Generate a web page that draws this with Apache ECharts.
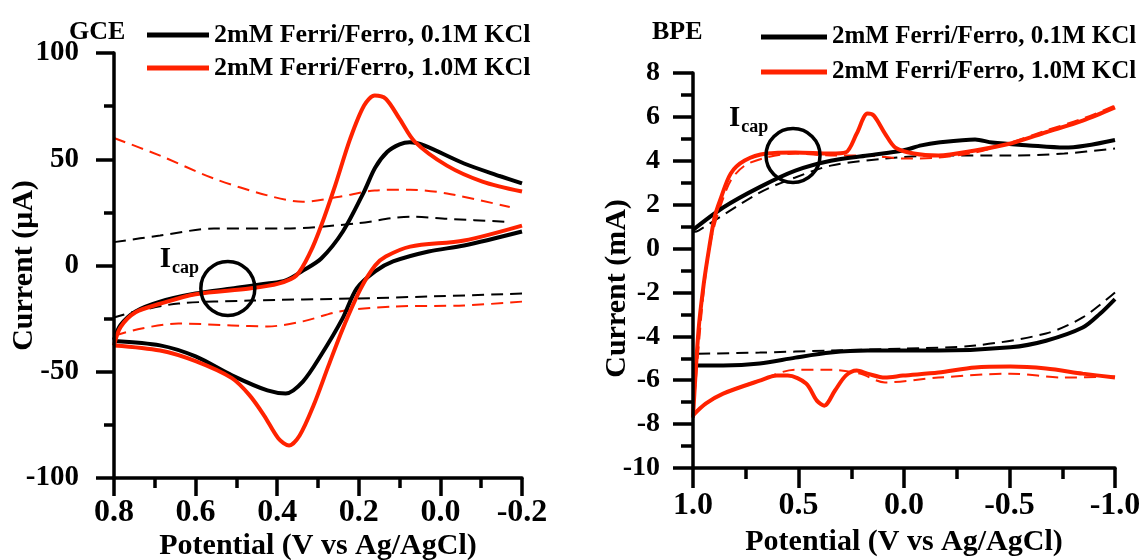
<!DOCTYPE html>
<html>
<head>
<meta charset="utf-8">
<script src="https://cdn.jsdelivr.net/npm/echarts@6/dist/echarts.min.js"></script>
<style>
html,body{margin:0;padding:0;background:#fff;}
#chart{width:1143px;height:560px;}
</style>
</head>
<body>
<div id="chart"></div>
<script>
// ---------- DATA (potential V, current) ----------
const N1 = '2mM Ferri/Ferro, 0.1M KCl';
const N2 = '2mM Ferri/Ferro, 1.0M KCl';

// GCE panel, current in µA
const gce01Up = [[0.8,-35],[0.784,-28],[0.747,-21.6],[0.687,-17],[0.6,-13.2],[0.511,-10.8],[0.424,-8.5],[0.379,-7],[0.337,-2.4],[0.292,3.3],[0.239,16],[0.187,34.8],[0.16,46],[0.13,53.5],[0.1,57],[0.075,58],[0.04,56.5],[-0.058,48],[-0.147,42],[-0.2,38.6]];
const gce01Dn = [[-0.2,16],[-0.058,9.4],[0.029,6.6],[0.116,1.9],[0.16,-2.8],[0.205,-10.8],[0.24,-25],[0.292,-42],[0.337,-54.6],[0.379,-60.2],[0.424,-58.8],[0.511,-51.7],[0.6,-42.8],[0.687,-37.6],[0.8,-35.5]];
const gce10Up = [[0.8,-37.6],[0.784,-29],[0.747,-22],[0.687,-18],[0.6,-13.5],[0.468,-10.8],[0.397,-8.5],[0.353,-4.7],[0.318,6.6],[0.292,18.8],[0.258,37.6],[0.221,59.7],[0.187,75.3],[0.161,80],[0.134,78.5],[0.1,69],[0.063,58.3],[-0.016,47],[-0.103,39.5],[-0.2,34.8]];
const gce10Dn = [[-0.2,18.8],[-0.058,11.8],[0.074,8.9],[0.134,4.2],[0.16,0],[0.195,-10.8],[0.239,-29.6],[0.274,-47],[0.311,-65.9],[0.345,-80],[0.371,-84.7],[0.397,-81.4],[0.432,-70.6],[0.468,-61],[0.511,-53],[0.6,-45],[0.687,-40],[0.8,-37.6]];
const gce01BgUp = [[0.8,11],[0.687,14.1],[0.555,17.4],[0.379,17.4],[0.205,19.8],[0.074,23],[-0.016,22],[-0.17,20.5]];
const gce01BgDn = [[-0.2,-13.2],[0.029,-14.6],[0.205,-15.5],[0.468,-16.5],[0.642,-17.9],[0.747,-21.6],[0.8,-24.5]];
const gce10BgUp = [[0.8,60],[0.687,51.7],[0.555,40.9],[0.424,33],[0.337,30],[0.247,32.4],[0.161,35.3],[0.074,35.7],[-0.016,33.9],[-0.17,27.5]];
const gce10BgDn = [[-0.2,-17],[-0.058,-18.8],[0.116,-19.3],[0.247,-21.6],[0.337,-26.3],[0.424,-28.7],[0.511,-28.2],[0.642,-27.3],[0.732,-29.6],[0.8,-33]];
const gceIcap = [[0.521,-10.8]];

// BPE panel, current in mA
const bpe01Up = [[1.0,0.85],[0.857,1.87],[0.684,2.8],[0.515,3.55],[0.347,4.0],[0.173,4.24],[0.005,4.47],[-0.082,4.7],[-0.163,4.83],[-0.337,4.97],[-0.418,4.83],[-0.592,4.7],[-0.76,4.6],[-1.0,4.95]];
const bpe01Dn = [[-1.0,-2.3],[-0.929,-2.97],[-0.847,-3.6],[-0.673,-4.2],[-0.505,-4.5],[-0.163,-4.65],[0.173,-4.65],[0.347,-4.74],[0.515,-4.97],[0.684,-5.24],[0.857,-5.33],[1.0,-5.33]];
const bpe10Up = [[1.0,-7.7],[0.974,-3.74],[0.949,-1.6],[0.923,0.05],[0.898,1.41],[0.872,2.19],[0.821,3.42],[0.755,4.01],[0.652,4.33],[0.515,4.38],[0.347,4.33],[0.276,4.38],[0.224,5.24],[0.173,6.15],[0.143,6.06],[0.09,5.24],[0.041,4.6],[-0.046,4.33],[-0.163,4.24],[-0.337,4.47],[-0.505,4.79],[-0.673,5.3],[-0.847,5.83],[-1.0,6.43]];
const bpe10Dn = [[-1.0,-5.88],[-0.847,-5.7],[-0.673,-5.47],[-0.505,-5.38],[-0.337,-5.42],[-0.163,-5.65],[0.005,-5.79],[0.09,-5.88],[0.173,-5.7],[0.224,-5.56],[0.276,-5.79],[0.327,-6.47],[0.378,-7.16],[0.413,-6.93],[0.464,-6.15],[0.551,-5.79],[0.602,-5.79],[0.684,-6.02],[0.857,-6.61],[0.94,-7.07],[1.0,-7.6]];
const bpe01BgUp = [[1.0,0.75],[0.974,0.82],[0.684,2.55],[0.515,3.24],[0.347,3.78],[0.09,4.1],[-0.163,4.24],[-0.505,4.24],[-0.76,4.33],[-1.0,4.56]];
const bpe01BgDn = [[-1.0,-2.0],[-0.847,-3.14],[-0.673,-3.87],[-0.337,-4.42],[0.005,-4.56],[0.347,-4.65],[0.684,-4.74],[1.0,-4.8]];
const bpe10BgUp = [[1.0,-7.6],[0.96,-3.0],[0.935,-0.8],[0.908,0.68],[0.872,1.87],[0.821,3.1],[0.755,3.78],[0.652,4.15],[0.515,4.33],[0.347,4.24],[0.173,4.24],[0.005,4.1],[-0.163,4.15],[-0.337,4.38],[-0.505,4.83],[-0.673,5.38],[-0.847,5.92],[-1.0,6.52]];
const bpe10BgDn = [[-1.0,-5.83],[-0.76,-5.88],[-0.505,-5.7],[-0.163,-5.88],[0.09,-6.1],[0.209,-5.7],[0.347,-5.52],[0.515,-5.52],[0.684,-6.0],[0.857,-6.61],[1.0,-7.5]];
const bpeIcap = [[0.526,4.24]];

// ---------- STYLE ----------
const FONT = "'Liberation Serif','Times New Roman',serif";
const BLACK = '#000000';
const RED = '#ff2200';

function line(name, data, color, width, dashed, idx) {
  return {
    type: 'line', name: name, data: data, xAxisIndex: idx, yAxisIndex: idx,
    symbol: 'none', showSymbol: false, smooth: 0.3, silent: true,
    lineStyle: { color: color, width: width, type: dashed ? [12, 7] : 'solid' },
    itemStyle: { color: color },
    z: dashed ? 2 : 3
  };
}
function icap(data, idx, dx, dy) {
  return {
    type: 'scatter', name: 'Icap' + idx, data: data, xAxisIndex: idx, yAxisIndex: idx,
    symbol: 'circle', symbolSize: 54, silent: true, z: 6,
    itemStyle: { color: 'rgba(0,0,0,0)', borderColor: BLACK, borderWidth: 3.5, opacity: 1 },
    label: {
      show: true, position: 'left', distance: 0, offset: [dx, dy],
      formatter: '{a|I}{b|cap}',
      rich: {
        a: { fontFamily: FONT, fontWeight: 'bold', fontSize: 29, lineHeight: 29, color: BLACK, verticalAlign: 'top' },
        b: { fontFamily: FONT, fontWeight: 'bold', fontSize: 18, lineHeight: 18, color: BLACK, padding: [14, 0, 0, 1], verticalAlign: 'top' }
      }
    }
  };
}
function xAx(idx, min, max, interval, tickLen, minorLen, margin, nameGap, fs) {
  return {
    gridIndex: idx, type: 'value', min: min, max: max, interval: interval, inverse: true, z: 10,
    name: 'Potential (V vs Ag/AgCl)', nameLocation: 'middle', nameGap: nameGap, nameMoveOverlap: false,
    nameTextStyle: { fontFamily: FONT, fontWeight: 'bold', fontSize: 30, color: BLACK },
    axisLine: { onZero: false, lineStyle: { color: BLACK, width: 3.5 } },
    axisTick: { show: true, length: tickLen, lineStyle: { color: BLACK, width: 3.5 } },
    minorTick: { show: true, splitNumber: 2, length: minorLen, lineStyle: { color: BLACK, width: 3.5 } },
    splitLine: { show: false }, minorSplitLine: { show: false },
    axisLabel: { margin: margin, fontFamily: FONT, fontWeight: 'bold', fontSize: fs, color: BLACK,
      formatter: function (v) { return v.toFixed(1); } }
  };
}
function yAx(idx, min, max, interval, name, tickLen, minorLen, margin, nameGap, fs, namePad) {
  return {
    gridIndex: idx, type: 'value', min: min, max: max, interval: interval, z: 10,
    name: name, nameLocation: 'middle', nameGap: nameGap, nameRotate: 90, nameMoveOverlap: false,
    nameTextStyle: { fontFamily: FONT, fontWeight: 'bold', fontSize: 30, color: BLACK, padding: namePad },
    axisLine: { onZero: false, lineStyle: { color: BLACK, width: 3.5 } },
    axisTick: { show: true, length: tickLen, lineStyle: { color: BLACK, width: 3.5 } },
    minorTick: { show: true, splitNumber: 2, length: minorLen, lineStyle: { color: BLACK, width: 3.5 } },
    splitLine: { show: false }, minorSplitLine: { show: false },
    axisLabel: { margin: margin, fontFamily: FONT, fontWeight: 'bold', fontSize: fs, color: BLACK }
  };
}
function legend(left, top, itemWidth, gap, fs) {
  return {
    left: left, top: top, orient: 'vertical', data: [N1, N2], selectedMode: false,
    icon: 'rect', itemWidth: itemWidth, itemHeight: 5, itemGap: gap, padding: 0,
    textStyle: { fontFamily: FONT, fontWeight: 'bold', fontSize: fs, lineHeight: 26, color: BLACK }
  };
}

const chart = echarts.init(document.getElementById('chart'), null, { renderer: 'canvas' });
chart.setOption({
  animation: false,
  backgroundColor: '#ffffff',
  title: [
    { text: 'GCE', left: 64, top: 14, textStyle: { fontFamily: FONT, fontWeight: 'bold', fontSize: 26, color: BLACK } },
    { text: 'BPE', left: 647, top: 14, textStyle: { fontFamily: FONT, fontWeight: 'bold', fontSize: 26, color: BLACK } }
  ],
  legend: [ legend(147, 22, 62, 7, 26), legend(761, 24, 66, 9, 25) ],
  grid: [
    { left: 114, top: 53, width: 408, height: 425, outerBoundsMode: 'none', containLabel: false },
    { left: 693, top: 73, width: 422, height: 395, outerBoundsMode: 'none', containLabel: false }
  ],
  xAxis: [ xAx(0, -0.2, 0.8, 0.2, 18, 10, 19, 53, 32), xAx(1, -1, 1, 0.5, 20, 11, 22, 59, 32) ],
  yAxis: [
    yAx(0, -100, 100, 50, 'Current (μA)', 18, 10, 35, 75, 29, [0, 0, 0, 0]),
    yAx(1, -10, 8, 2, 'Current (mA)', 20, 12, 33, 61, 28, [0, 36, 0, 0])
  ],
  series: [
    line('gce01BgUp', gce01BgUp, BLACK, 2, true, 0),
    line('gce01BgDn', gce01BgDn, BLACK, 2, true, 0),
    line('gce10BgUp', gce10BgUp, RED, 2, true, 0),
    line('gce10BgDn', gce10BgDn, RED, 2, true, 0),
    line(N1, gce01Up, BLACK, 4, false, 0),
    line(N1, gce01Dn, BLACK, 4, false, 0),
    line(N2, gce10Up, RED, 4, false, 0),
    line(N2, gce10Dn, RED, 4, false, 0),
    icap(gceIcap, 0, 0, -29),
    line('bpe01BgUp', bpe01BgUp, BLACK, 2, true, 1),
    line('bpe01BgDn', bpe01BgDn, BLACK, 2, true, 1),
    line('bpe10BgUp', bpe10BgUp, RED, 2, true, 1),
    line('bpe10BgDn', bpe10BgDn, RED, 2, true, 1),
    line(N1, bpe01Up, BLACK, 4, false, 1),
    line(N1, bpe01Dn, BLACK, 4, false, 1),
    line(N2, bpe10Up, RED, 4, false, 1),
    line(N2, bpe10Dn, RED, 4, false, 1),
    icap(bpeIcap, 1, 4, -37)
  ]
});
</script>
</body>
</html>
